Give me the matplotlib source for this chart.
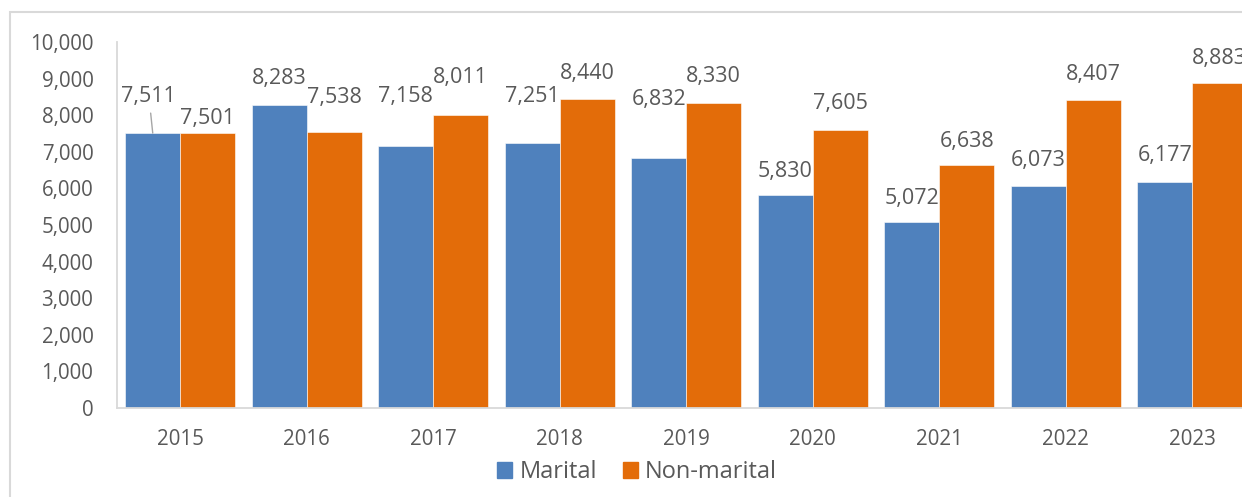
import matplotlib.pyplot as plt
from matplotlib.patches import Rectangle, Patch
import numpy as np

years = ["2015", "2016", "2017", "2018", "2019", "2020", "2021", "2022", "2023"]
marital = [7511, 8283, 7158, 7251, 6832, 5830, 5072, 6073, 6177]
non_marital = [7501, 7538, 8011, 8440, 8330, 7605, 6638, 8407, 8883]

# label offsets above bar tops, in pixels (Excel moved a few by hand)
marital_off = [37, 26, 50, 46, 58, 23, 24, 25, 26]
non_marital_off = [15, 35, 37, 26, 27, 26, 24, 26, 24]

BLUE = "#4F81BD"
ORANGE = "#E36C09"
TEXT = "#595959"

plt.rcParams['font.family'] = ['Open Sans', 'DejaVu Sans']

W, H = 1242, 497
fig = plt.figure(figsize=(W / 100, H / 100), dpi=100)

# chart frame (cut off at right and bottom)
fig.patches.append(Rectangle((10 / W, -0.1), 1.2, 1 - 12 / H + 0.1, transform=fig.transFigure,
                             fill=False, edgecolor="#D9D9D9", lw=1.5))

ax = fig.add_axes([117 / W, (H - 408) / H, 1138.5 / W, 366 / H])
x = np.arange(len(years))
w = 0.435
ax.bar(x - w / 2, marital, w, color=BLUE, edgecolor="white", linewidth=0.4, label="Marital")
ax.bar(x + w / 2, non_marital, w, color=ORANGE, edgecolor="white", linewidth=0.4, label="Non-marital")

ax.set_xlim(-0.5, len(years) - 0.5)
ax.set_ylim(0, 10000)
ax.set_yticks(np.arange(0, 10001, 1000))
ax.set_yticklabels([f"{v:,}" for v in range(0, 10001, 1000)])
ax.set_xticks(x)
ax.set_xticklabels(years)
ax.tick_params(axis="y", length=0, pad=17, labelsize=14.8, labelcolor=TEXT)
ax.tick_params(axis="x", length=0, pad=15, labelsize=14.8, labelcolor=TEXT)
for s in ["top", "right"]:
    ax.spines[s].set_visible(False)
for s in ["left", "bottom"]:
    ax.spines[s].set_color("#D9D9D9")
    ax.spines[s].set_linewidth(1.3)

for i in range(len(years)):
    for val, off, dx in ((marital[i], marital_off[i], -w / 2), (non_marital[i], non_marital_off[i], w / 2)):
        shift = -4 if (i == 0 and dx < 0) else 0
        ax.annotate(f"{val:,}", (x[i] + dx, val), xytext=(shift * 0.72, off * 0.72),
                    textcoords="offset points", ha="center", va="center",
                    fontsize=15.5, color=TEXT, annotation_clip=False)

# leader line for the moved 2015 label
ax.annotate("", (x[0] - w / 2, marital[0]), xytext=(-1.5, 20 * 0.72), textcoords="offset points",
            arrowprops=dict(arrowstyle="-", color="#A6A6A6", lw=1, shrinkA=0, shrinkB=0))

handles = [Patch(color=BLUE), Patch(color=ORANGE)]
fig.legend(handles, ["Marital", "Non-marital"], loc="center", bbox_to_anchor=(637 / W, 1 - 472 / H),
           ncol=2, frameon=False, fontsize=17, labelcolor=TEXT, handlelength=0.64, handleheight=0.64,
           handletextpad=0.3, columnspacing=1.1, borderpad=0)

fig.savefig("out.png", dpi=100)
